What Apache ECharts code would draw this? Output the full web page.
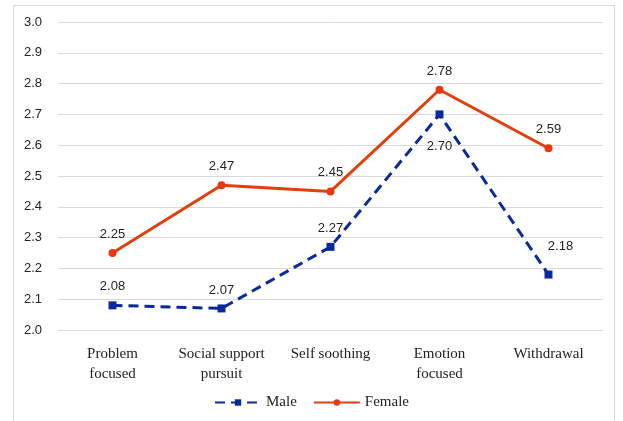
<!DOCTYPE html>
<html>
<head>
<meta charset="utf-8">
<script src="https://cdn.jsdelivr.net/npm/echarts@6/dist/echarts.min.js"></script>
<style>
  html, body { margin: 0; padding: 0; background: #fff; }
  #frame { position: absolute; left: 13px; top: 5px; width: 602px; height: 420px; border: 1px solid #d9d9d9; box-sizing: border-box; }
  #chart { position: absolute; left: 0; top: 0; width: 623px; height: 421px; }
</style>
</head>
<body>
<div id="frame"></div>
<div id="chart"></div>
<script>
// 类别与数据
const categories = ['Problem\nfocused', 'Social support\npursuit', 'Self soothing', 'Emotion\nfocused', 'Withdrawal'];
const maleValues = [2.08, 2.07, 2.27, 2.70, 2.18];
const femaleValues = [2.25, 2.47, 2.45, 2.78, 2.59];
const yTicks = [2.0, 3.0, 0.1]; // min, max, interval

const chart = echarts.init(document.getElementById('chart'));

// 数据标签样式
const labelStyle = {
    show: true,
    position: 'top',
    distance: 8,
    fontFamily: 'Liberation Sans', fontSize: 13, color: '#222',
    formatter: p => p.value.toFixed(2)
};

const option = {
    animation: false,
    grid: { left: 58, right: 20, top: 22, bottom: 91 },
    legend: {
        bottom: 6,
        left: 'center',
        itemGap: 16,
        itemWidth: 46,
        itemHeight: 8,
        textStyle: { fontFamily: 'Liberation Serif', fontSize: 15, color: '#222' },
        data: ['Male', 'Female']
    },
    xAxis: {
        type: 'category',
        data: categories,
        boundaryGap: true,
        axisLine: { show: false },
        axisTick: { show: false },
        axisLabel: {
            fontFamily: 'Liberation Serif', fontSize: 15, color: '#222',
            margin: 14, lineHeight: 20, interval: 0
        }
    },
    yAxis: {
        type: 'value',
        min: yTicks[0],
        max: yTicks[1],
        interval: yTicks[2],
        axisLine: { show: false },
        axisTick: { show: false },
        axisLabel: {
            fontFamily: 'Liberation Sans', fontSize: 13, color: '#222', margin: 16,
            formatter: v => v.toFixed(1)
        },
        splitLine: { lineStyle: { color: '#d9d9d9', width: 1 } }
    },
    series: [
        {
            name: 'Male',
            type: 'line',
            symbol: 'rect',
            symbolSize: 8,
            itemStyle: { color: '#0a2a9c' },
            lineStyle: { color: '#0a2a9c', width: 3, type: [10, 6] },
            label: labelStyle,
            data: maleValues.map((v, i) => {
                if (i === 3) return { value: v, label: { position: 'bottom', distance: 22 } };
                if (i === 4) return { value: v, label: { position: 'top', offset: [12, -10] } };
                return v;
            })
        },
        {
            name: 'Female',
            type: 'line',
            symbol: 'circle',
            symbolSize: 8,
            itemStyle: { color: '#e8380d' },
            lineStyle: { color: '#e0400c', width: 3 },
            label: labelStyle,
            data: femaleValues
        }
    ]
};

chart.setOption(option);
</script>
</body>
</html>
